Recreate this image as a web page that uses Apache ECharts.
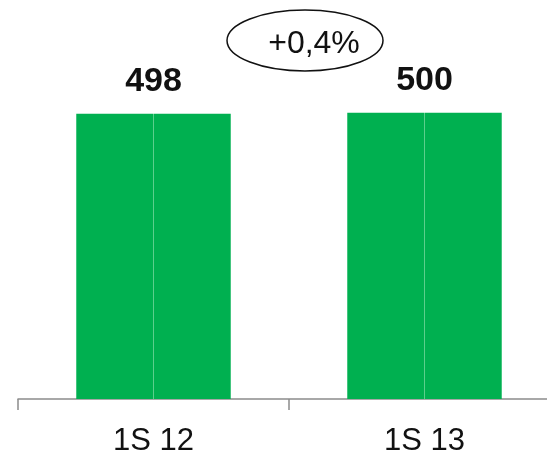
<!DOCTYPE html>
<html>
<head>
<meta charset="utf-8">
<style>html,body{margin:0;padding:0;background:#fff;overflow:hidden;width:547px;height:457px;}#c{width:580px;height:457px;}</style>
<script src="https://cdn.jsdelivr.net/npm/echarts@6/dist/echarts.min.js"></script>
</head>
<body>
<div id="c"></div>
<script>
const categories = ['1S 12', '1S 13'];
const values = [498, 500];
const changeLabel = '+0,4%';

const chart = echarts.init(document.getElementById('c'), null, {renderer: 'canvas'});
const barColor = {
  type: 'linear', x: 0, y: 0, x2: 1, y2: 0,
  colorStops: [
    {offset: 0, color: '#00B050'},
    {offset: 0.494, color: '#00B050'},
    {offset: 0.495, color: '#5ccf8c'},
    {offset: 0.504, color: '#5ccf8c'},
    {offset: 0.505, color: '#00B050'},
    {offset: 1, color: '#00B050'}
  ]
};
chart.setOption({
  animation: false,
  grid: {left: 18, width: 542, top: 55.4, bottom: 57, containLabel: false},
  xAxis: {
    type: 'category',
    data: categories,
    boundaryGap: true,
    axisLine: {show: true, lineStyle: {color: '#8c8c8c', width: 1.5}},
    axisTick: {show: true, alignWithLabel: false, interval: 0, length: 11, lineStyle: {color: '#8c8c8c', width: 1.5}},
    axisLabel: {fontFamily: 'Liberation Sans', fontSize: 31, color: '#111', margin: 27}
  },
  yAxis: {type: 'value', min: 0, max: 600, show: false, splitLine: {show: false}},
  series: [{
    type: 'bar',
    data: values,
    barWidth: '57%',
    itemStyle: {color: barColor},
    label: {
      show: true, position: 'top', distance: 15,
      fontFamily: 'Liberation Sans', fontWeight: 'bold', fontSize: 34, color: '#111'
    }
  }],
  graphic: [
    {type: 'ellipse', shape: {cx: 305, cy: 40.5, rx: 78, ry: 30.5},
     style: {fill: 'none', stroke: '#111', lineWidth: 1.5}},
    {type: 'text', x: 314, y: 44,
     style: {text: changeLabel, fontFamily: 'Liberation Sans', fontSize: 32, fill: '#111',
             textAlign: 'center', textVerticalAlign: 'middle'}}
  ]
});
</script>
</body>
</html>
